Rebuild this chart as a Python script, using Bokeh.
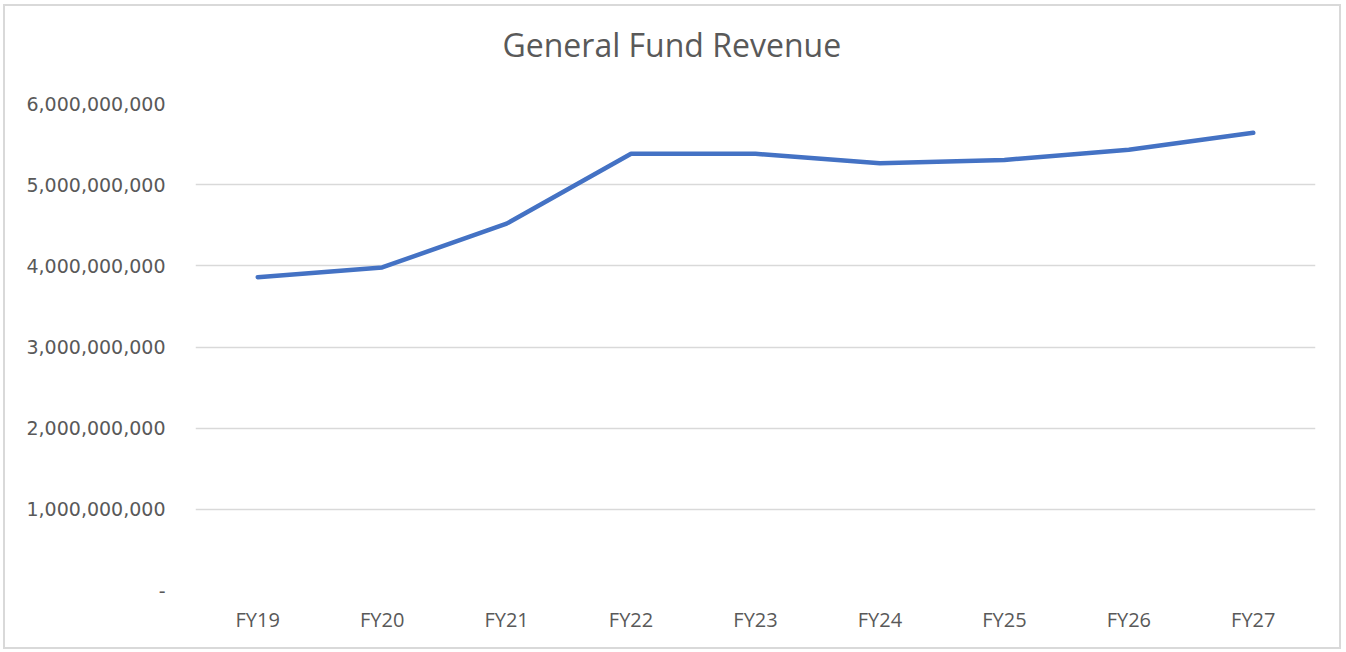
from bokeh.plotting import figure
from bokeh.embed import file_html
from bokeh.resources import INLINE
from bokeh.models import FixedTicker, Range1d, FactorRange, Title

# ---- data ----
fiscal_years = ["FY19", "FY20", "FY21", "FY22", "FY23", "FY24", "FY25", "FY26", "FY27"]
revenue = [3.86e9, 3.98e9, 4.52e9, 5.38e9, 5.38e9, 5.265e9, 5.305e9, 5.43e9, 5.64e9]
y_ticks = [0, 1000000000, 2000000000, 3000000000, 4000000000, 5000000000, 6000000000]
y_tick_labels = ["-", "1,000,000,000", "2,000,000,000", "3,000,000,000",
                 "4,000,000,000", "5,000,000,000", "6,000,000,000"]
title_text = "General Fund Revenue"

FONT = "Open Sans"
GRAY = "#595959"

p = figure(
    width=1338, height=645,
    x_range=FactorRange(*fiscal_years, range_padding=0),
    y_range=Range1d(0, 6e9),
    output_backend="svg", toolbar_location=None,
    min_border_left=190, min_border_right=28, min_border_top=97, min_border_bottom=61,
    title=None,
)
p.styles = {"border": "2px solid #d9d9d9", "margin-left": "3px", "margin-top": "4px"}

# spacer between the frame and the title, then the chart title
p.add_layout(Title(text=" ", text_font_size="1px", standoff=35), "above")
p.add_layout(Title(text=title_text, text_font=FONT, text_font_size="32px",
                   text_font_style="normal", text_color=GRAY,
                   align="left", offset=307, standoff=0), "above")

p.outline_line_color = None
p.background_fill_color = "white"
p.border_fill_color = "white"

# grid
p.xgrid.grid_line_color = None
p.ygrid.grid_line_color = "#d9d9d9"
p.ygrid.grid_line_width = 1.5

# y axis
p.yaxis.ticker = FixedTicker(ticks=y_ticks)
p.yaxis.major_label_overrides = dict(zip(y_ticks, y_tick_labels))
p.yaxis.axis_line_color = None
p.yaxis.major_tick_line_color = None
p.yaxis.minor_tick_line_color = None
p.yaxis.major_tick_out = 0
p.yaxis.major_label_standoff = 30
p.yaxis.major_label_text_font = "DejaVu Sans"
p.yaxis.major_label_text_font_size = "19px"
p.yaxis.major_label_text_color = GRAY

# x axis
p.xaxis.axis_line_color = None
p.xaxis.major_tick_line_color = None
p.xaxis.major_tick_out = 0
p.xaxis.major_label_standoff = 15
p.xaxis.major_label_text_font = FONT
p.xaxis.major_label_text_font_size = "20px"
p.xaxis.major_label_text_color = GRAY

p.line(x=fiscal_years, y=revenue, line_color="#4472C4", line_width=4.5,
       line_join="round", line_cap="round")

open("out.html", "w").write(file_html(p, INLINE))
